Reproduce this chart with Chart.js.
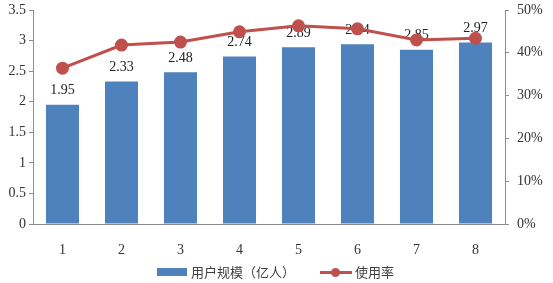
<!DOCTYPE html>
<html>
<head>
<meta charset="utf-8">
<script src="https://cdn.jsdelivr.net/npm/chart.js@4"></script>
<style>
  html, body { margin: 0; padding: 0; background: #fff; }
  #wrap { position: relative; width: 553px; height: 283px; }
  #legend { position: absolute; left: 0; top: 262px; width: 553px; height: 20px;
    font-family: "Noto Sans CJK SC", sans-serif; font-size: 13px; color: #404040; }
  .item { position: absolute; top: 0; line-height: 20px; white-space: nowrap; }
  .box { position: absolute; width: 30px; height: 8px; background: #4f81bd; top: 6px; left: 0; }
  .ln { position: absolute; width: 32px; height: 3px; background: #c0504d; top: 9px; left: 0; }
  .dot { position: absolute; width: 9px; height: 9px; border-radius: 50%; background: #c0504d; top: 6px; left: 11px; }
</style>
</head>
<body>
<div id="wrap">
  <canvas id="chart" width="553" height="283"></canvas>
  <div id="legend">
    <div class="item" style="left:157px"><span class="box"></span><span style="margin-left:34px">用户规模（亿人）</span></div>
    <div class="item" style="left:320px"><span class="ln"></span><span class="dot"></span><span style="margin-left:35px">使用率</span></div>
  </div>
</div>
<script>
// 数据
var categories = ['1', '2', '3', '4', '5', '6', '7', '8'];
var userScale = [1.95, 2.33, 2.48, 2.74, 2.89, 2.94, 2.85, 2.97];
var usageRate = [36.4, 41.8, 42.5, 44.9, 46.3, 45.6, 43.0, 43.4];
var leftTicks = [0, 0.5, 1, 1.5, 2, 2.5, 3, 3.5];
var rightTicks = [0, 10, 20, 30, 40, 50];

var serif = '"Liberation Serif", "Times New Roman", serif';

// 柱顶数值标签
var barLabels = {
  id: 'barLabels',
  afterDatasetDraw: function (chart, args) {
    if (args.index !== 1) return;
    var ctx = chart.ctx;
    ctx.save();
    ctx.font = '14px ' + serif;
    ctx.fillStyle = '#222';
    ctx.textAlign = 'center';
    ctx.textBaseline = 'middle';
    args.meta.data.forEach(function (bar, i) {
      ctx.fillText(userScale[i].toFixed(2), bar.x, bar.y - 14);
    });
    ctx.restore();
  }
};

// 固定纵轴宽度，去掉自动留白
function fixY(width) {
  return function (s) {
    s.width = width;
    s.paddingTop = 0;
    s.paddingBottom = 0;
  };
}

var chart = new Chart(document.getElementById('chart'), {
  type: 'bar',
  data: {
    labels: categories,
    datasets: [{
      type: 'line',
      label: '使用率',
      data: usageRate,
      yAxisID: 'y1',
      borderColor: '#c0504d',
      backgroundColor: '#c0504d',
      borderWidth: 3,
      pointRadius: 5,
      pointHoverRadius: 5,
      tension: 0,
      order: 0
    }, {
      label: '用户规模（亿人）',
      data: userScale,
      yAxisID: 'y',
      backgroundColor: '#4f81bd',
      borderColor: '#4f81bd',
      barPercentage: 0.56,
      categoryPercentage: 1,
      order: 1
    }]
  },
  plugins: [barLabels],
  options: {
    responsive: false,
    animation: false,
    layout: { padding: { top: 10, bottom: 29, left: 0, right: 0 } },
    plugins: {
      legend: { display: false },
      tooltip: { enabled: false }
    },
    scales: {
      x: {
        grid: { display: false },
        border: { display: true, color: '#8c8c8c', width: 1 },
        ticks: { color: '#333', font: { family: serif, size: 14 }, padding: 10 },
        afterFit: function (s) { s.height = 30; }
      },
      y: {
        position: 'left',
        min: 0,
        max: 3.5,
        afterBuildTicks: function (s) { s.ticks = leftTicks.map(function (v) { return { value: v }; }); },
        ticks: { color: '#333', font: { family: serif, size: 14 }, padding: 3,
          callback: function (v) { return String(v); } },
        grid: { drawOnChartArea: false, drawTicks: true, tickLength: 4, color: '#8c8c8c' },
        border: { display: true, color: '#8c8c8c' },
        afterFit: fixY(33)
      },
      y1: {
        position: 'right',
        min: 0,
        max: 50,
        afterBuildTicks: function (s) { s.ticks = rightTicks.map(function (v) { return { value: v }; }); },
        ticks: { color: '#333', font: { family: serif, size: 14 }, padding: 8,
          callback: function (v) { return v + '%'; } },
        grid: { drawOnChartArea: false, drawTicks: true, tickLength: 4, color: '#8c8c8c' },
        border: { display: true, color: '#8c8c8c' },
        afterFit: fixY(48)
      }
    }
  }
});
</script>
</body>
</html>
